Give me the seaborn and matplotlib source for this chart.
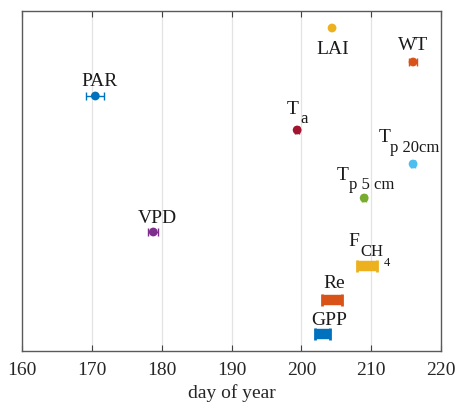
import matplotlib
matplotlib.use("Agg")
import matplotlib.pyplot as plt
import seaborn as sns
import pandas as pd

# Timing of the seasonal peak (day of year) for each variable, with uncertainty
variables = ["GPP", "Re", "FCH4", "VPD", "Tp5", "Tp20", "Ta", "PAR", "WT", "LAI"]
peak_doy = [203.0, 204.4, 209.4, 178.8, 209.0, 216.0, 199.4, 170.5, 216.0, 204.4]
peak_err = [1.1, 1.4, 1.4, 0.7, 0.3, 0.3, 0.3, 1.3, 0.6, 0.0]
row = [1, 2, 3, 4, 5, 6, 7, 8, 9, 10]
label_main = ["GPP", "Re", "F", "VPD", "T", "T", "T", "PAR", "WT", "LAI"]
label_sub = ["", "", "CH", "", "p 5 cm", "p 20cm", "a", "", "", ""]
label_subsub = ["", "", "4", "", "", "", "", "", "", ""]
x_ticks = [160, 170, 180, 190, 200, 210, 220]

colors = {"GPP": "#0072BD", "Re": "#D95319", "FCH4": "#EDB120", "VPD": "#7E2F8E",
          "Tp5": "#77AC30", "Tp20": "#4DBEEE", "Ta": "#A2142F", "PAR": "#0072BD",
          "WT": "#D95319", "LAI": "#EDB120"}
# label placement relative to the marker (pixels): main text, subscript, sub-subscript
main_pos = {"GPP": (7, 10, "center"), "Re": (2, 13, "center"), "FCH4": (-19, 21, "left"),
            "VPD": (4, 10, "center"), "Tp5": (-27, 19, "left"), "Tp20": (-34, 23, "left"),
            "Ta": (-10, 17, "left"), "PAR": (4, 11, "center"), "WT": (0, 13, "center"),
            "LAI": (1, -25, "center")}
sub_pos = {"FCH4": (-7, 11), "Tp5": (-15, 10), "Tp20": (-23, 13), "Ta": (3, 8)}
subsub_pos = {"FCH4": (17, 1)}
thick_bars = {"GPP", "Re", "FCH4"}

df = pd.DataFrame({"variable": variables, "doy": peak_doy, "err": peak_err, "row": row,
                   "main": label_main, "sub": label_sub, "subsub": label_subsub})

sns.set_theme(style="white")
plt.rcParams["font.family"] = ["Liberation Serif", "DejaVu Serif"]

fig = plt.figure(figsize=(4.58, 4.06), dpi=100)
ax = fig.add_axes([22 / 458, 1 - 352 / 406, (441 - 22) / 458, (352 - 12) / 406])

for x in x_ticks[1:-1]:
    ax.axvline(x, color="#e3e3e3", lw=0.9, zorder=0)

for _, r in df.iterrows():
    c = colors[r["variable"]]
    if r["err"] <= 0:
        continue
    if r["variable"] in thick_bars:
        ax.errorbar(r["doy"], r["row"], xerr=r["err"], fmt="none", ecolor=c,
                    elinewidth=7.5, capsize=4, capthick=2, zorder=2)
    else:
        ax.errorbar(r["doy"], r["row"], xerr=r["err"], fmt="none", ecolor=c,
                    elinewidth=1.0, capsize=3, capthick=1.0, zorder=2)

sns.scatterplot(data=df, x="doy", y="row", hue="variable", palette=colors,
                s=40, edgecolor="none", legend=False, ax=ax, zorder=3)

txt = dict(textcoords="offset pixels", va="baseline", color="#1a1a1a")
for _, r in df.iterrows():
    v = r["variable"]
    xy = (r["doy"], r["row"])
    dx, dy, ha = main_pos[v]
    ax.annotate(r["main"], xy, xytext=(dx, dy), ha=ha, fontsize=14, **txt)
    if r["sub"]:
        sx, sy = sub_pos[v]
        ax.annotate(r["sub"], xy, xytext=(sx, sy), ha="left", fontsize=12, **txt)
    if r["subsub"]:
        qx, qy = subsub_pos[v]
        ax.annotate(r["subsub"], xy, xytext=(qx, qy), ha="left", fontsize=9, **txt)

ax.set_xlim(160, 220)
ax.set_ylim(0.5, 10.5)
ax.set_xticks(x_ticks)
ax.set_yticks([])
ax.tick_params(axis="x", direction="in", top=True, bottom=True, length=4, width=0.8,
               color="#404040", labelsize=14, labelcolor="#262626", pad=7)
for s in ax.spines.values():
    s.set_visible(True)
    s.set_color("#5a5a5a")
    s.set_linewidth(1.0)
ax.set_xlabel("day of year", fontsize=14, color="#262626", labelpad=4)
ax.set_ylabel("")

fig.savefig("out.png", dpi=100)
